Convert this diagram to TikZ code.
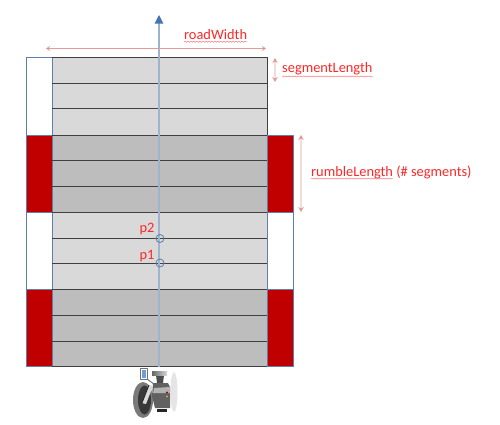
\documentclass[tikz,border=0pt]{standalone}
\usepackage{fontspec}
\setmainfont{Carlito}
\usetikzlibrary{arrows.meta,decorations.pathmorphing}
\definecolor{roadlight}{HTML}{D9D9D9}
\definecolor{roaddark}{HTML}{BDBDBD}
\definecolor{rumblered}{HTML}{C00000}
\definecolor{framecol}{HTML}{5F7FA8}
\definecolor{axiscol}{HTML}{9DB3CE}
\definecolor{tipcol}{HTML}{4475B0}
\definecolor{dimcol}{HTML}{E29A9A}
\definecolor{dimpale}{HTML}{F3DCDC}
\tikzset{
  lightseg/.style={fill=roadlight},
  darkseg/.style={fill=roaddark},
  rumble/.style={draw=framecol,fill=rumblered,line width=0.9pt},
  gap/.style={draw=framecol,fill=white,line width=0.9pt},
  segline/.style={draw=black!75,line width=1pt},
  dimlabel/.style={text=red!85!white,font=\fontsize{14.4}{16}\selectfont,inner sep=0pt,anchor=west},
  squiggle/.style={draw=red!60!white,line width=0.4pt,decorate,decoration={snake,amplitude=0.6pt,segment length=3pt}},
  dimarrow/.style={<->,>={Stealth[length=4pt,width=5pt]},draw=dimcol,line width=1pt},
  dimarrowpale/.style={<->,>={Stealth[length=5pt,width=5.5pt,color=dimcol]},draw=dimpale,line width=1.4pt},
  pointmark/.style={draw=framecol,line width=0.8pt,circle,minimum size=8pt,inner sep=0pt},
  pointlabel/.style={text=red!85!white,font=\fontsize{14.4}{16}\selectfont,inner sep=0pt}
}
\begin{document}
\begin{tikzpicture}[x=1pt,y=-1pt,line cap=butt,line join=round]
\useasboundingbox (0,0) rectangle (500,424);
\coordinate (widthL) at (46,48.5);
\coordinate (widthR) at (266,48.5);
\coordinate (segT) at (275,58);
\coordinate (segB) at (275,82);
\coordinate (rumT) at (301,135);
\coordinate (rumB) at (301,212);
\coordinate (axisS) at (159,367);
\coordinate (axisE) at (159,15);
% road
\fill[lightseg] (52,57) rectangle (267,135);
\fill[darkseg] (52,135) rectangle (267,212);
\fill[lightseg] (52,212) rectangle (267,289);
\fill[darkseg] (52,289) rectangle (267,366);
% rumble strips
\draw[gap] (26,57) rectangle (52,135);
\draw[rumble] (26,135) rectangle (52,212);
\draw[gap] (26,212) rectangle (52,289);
\draw[rumble] (26,289) rectangle (52,366);
\draw[rumble] (267,135) rectangle (293,212);
\draw[gap] (267,212) rectangle (293,289);
\draw[rumble] (267,289) rectangle (293,366);
% segments
\draw[segline] (52,57) -- (267,57);
\draw[segline] (52,83) -- (267,83);
\draw[segline] (52,108.5) -- (267,108.5);
\draw[segline] (52,135) -- (267,135);
\draw[segline] (52,160.5) -- (267,160.5);
\draw[segline] (52,186.5) -- (267,186.5);
\draw[segline] (52,212) -- (267,212);
\draw[segline] (52,238) -- (267,238);
\draw[segline] (52,263.5) -- (267,263.5);
\draw[segline] (52,289.5) -- (267,289.5);
\draw[segline] (52,315.5) -- (267,315.5);
\draw[segline] (52,341) -- (267,341);
\draw[segline] (52,366.5) -- (267,366.5);
\draw[segline] (267,57) -- (267,135);
% axis and dimensions
\draw[draw=axiscol,line width=1.1pt,-{Triangle[length=8.5pt,width=8.5pt,color=tipcol]}] (axisS) -- (axisE);
\draw[dimarrow] (widthL) -- (widthR);
\draw[dimarrowpale] (segT) -- (segB);
\draw[dimarrowpale] (rumT) -- (rumB);
\node[pointmark] (p2) at (160,238.5) {};
\node[pointmark] (p1) at (160,263) {};
\node[pointlabel] (p2label) at (147,229) {p2};
\node[pointlabel] (p1label) at (147,256) {p1};
\node[dimlabel] (roadWidth) at (184,34.5) {roadWidth};
\node[dimlabel] (segmentLength) at (282,69) {segmentLength};
\node[dimlabel] (rumbleLength) at (311,172) {rumbleLength (\# segments)};
\draw[squiggle] ([yshift=-2pt]roadWidth.south west) -- ([yshift=-2pt]roadWidth.south east);
\draw[squiggle] ([yshift=-1pt]segmentLength.south west) -- ([yshift=-1pt]segmentLength.south east);
\draw[squiggle] (311,178.5) -- (393,178.5);
% camera
\fill[black!10] (174,392) ellipse (3.5pt and 20pt);
\fill[black!52] (143,400) ellipse (10pt and 18pt);
\fill[black!78] (144.5,400) ellipse (6.5pt and 14.5pt);
\draw[black!55,fill=white,line width=1pt] (140,368.5) rectangle (147,379);
\fill[cyan!55!blue!60] (141.5,370) rectangle (145.5,377.5);
\draw[black!55,line width=1pt] (147,379) -- (154,384);
\fill[black!70] (156,375) -- (164,375) -- (163,383) -- (157,383) -- cycle;
\shade[left color=black!60,right color=black!15] (152,371) rectangle (167,375.5);
\fill[black!62] (153,383) -- (168,383) -- (170,387) -- (170,408) -- (155,408) -- (152,396) -- cycle;
\fill[black!30] (154,388) -- (170,387) -- (170,393) -- (153,393) -- cycle;
\fill[black!15] (149,385) -- (153,386) -- (146,404) -- (142,403) -- cycle;
\draw[black!85,line width=0.8pt] (149,385) -- (142,403);
\fill[black!85] (157,409) rectangle (167,411.5);
\fill[red!70!black] (167,392.5) circle (1.2pt);
\fill[yellow!70!black] (167,396.5) circle (1.2pt);
\end{tikzpicture}
\end{document}
